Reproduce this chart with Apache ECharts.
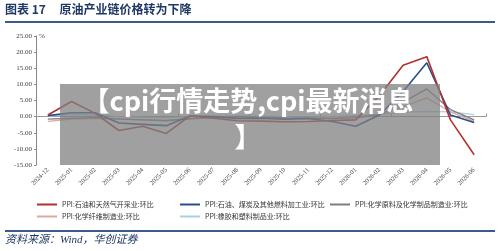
<!DOCTYPE html>
<html><head><meta charset="utf-8">
<script src="https://cdn.jsdelivr.net/npm/echarts@6/dist/echarts.min.js"></script>
<style>html,body{margin:0;padding:0;background:#fff;}#c{width:500px;height:251px;}</style>
</head><body><div id="c"></div>
<script>
const categories = ['2024-12','2025-01','2025-02','2025-03','2025-04','2025-05','2025-06','2025-07','2025-08','2025-09','2025-10','2025-11','2025-12','2026-01','2026-02','2026-03','2026-04','2026-05','2026-06'];
const oilGas   = [0.5, 4.7, 1.0, -4.3, -3.0, -5.2, 0.2, -0.5, -1.3, -1.4, -1.6, -1.5, -1.2, -1.0, 6.5, 15.9, 18.6, -1.0, -11.8];
const refining = [0.3, 1.2, 1.2, -2.0, -2.4, -2.8, 0.2, 0.0, -0.6, -0.5, -0.8, -0.6, -1.5, -3.0, 0.5, 7.8, 16.7, 0.5, -1.8];
const chemRaw  = [-0.8, -0.5, -0.3, -0.8, -1.0, -1.2, -0.6, -0.2, 0.0, -0.2, -0.4, -0.5, -0.6, -0.3, 0.5, 4.5, 8.6, 2.2, -1.0];
const fiber    = [-1.5, -0.8, -0.5, -0.6, -1.0, -1.3, -0.8, -0.3, -0.2, -0.4, -0.6, -0.5, -0.4, -0.2, 0.6, 3.0, 5.8, 1.5, -1.5];
const rubber   = [0.2, 0.6, 0.5, 0.0, -0.2, -0.3, 0.0, 0.1, 0.2, 0.1, 0.0, -0.1, 0.0, 0.3, 0.6, 1.4, 1.6, 1.5, 0.6];
const seriesNames = ['PPI:石油和天然气开采业:环比','PPI:石油、煤炭及其他燃料加工业:环比','PPI:化学原料及化学制品制造业:环比','PPI:化学纤维制造业:环比','PPI:橡胶和塑料制品业:环比'];
const colors = ['#B3302E','#234F8C','#7F7F7F','#DDA8A2','#A9D0E2'];
const widths = [1.6,1.6,1.3,1.3,1.3];
const allData = [oilGas, refining, chemRaw, fiber, rubber];
const titleText = '图表 17     原油产业链价格转为下降';
const sourceText = '资料来源：Wind，华创证券';
const overlayText = '【cpi行情走势,cpi最新消息\n】';

const chart = echarts.init(document.getElementById('c'), null, {renderer:'canvas'});
const legendText = {fontSize:7, color:'#333', fontFamily:'"Noto Sans CJK SC", sans-serif'};
function legend(names, left){
  return {data:names, orient:'vertical', left:left, top:201, itemWidth:20, itemHeight:2, itemGap:5, icon:'rect', padding:0, textStyle:legendText, selectedMode:false};
}
chart.setOption({
  animation:false,
  title:{text:titleText, left:5, top:3, padding:0, textStyle:{fontSize:12, fontWeight:'bold', color:'#1F3864', fontFamily:'"Noto Sans CJK SC", sans-serif'}},
  grid:{left:36, right:14, top:36, bottom:86},
  legend:[legend([seriesNames[0], seriesNames[3]], 37), legend([seriesNames[1], seriesNames[4]], 180), legend([seriesNames[2]], 330)],
  xAxis:[
    {type:'category', data:categories, boundaryGap:true, axisLine:{show:false, onZero:false}, axisTick:{show:false},
     axisLabel:{rotate:45, fontSize:6.5, color:'#404040', margin:4, fontFamily:'"Liberation Serif", serif', interval:0}},
    {type:'category', data:categories, position:'bottom', boundaryGap:true, axisLine:{show:true, onZero:true, lineStyle:{color:'#999', width:1}},
     axisTick:{show:true, inside:true, length:3, lineStyle:{color:'#999'}}, axisLabel:{show:false}}
  ],
  yAxis:{type:'value', min:-15, max:25, interval:5, name:'%', nameLocation:'end', nameGap:0,
    nameTextStyle:{align:'left', verticalAlign:'middle', fontSize:7, color:'#404040', padding:[0,0,0,3], fontFamily:'"Liberation Serif", serif'},
    axisLine:{show:true, lineStyle:{color:'#888', width:1}}, axisTick:{show:true, length:2, lineStyle:{color:'#888'}}, splitLine:{show:false},
    axisLabel:{fontSize:7, color:'#404040', margin:4, fontFamily:'"Liberation Serif", serif', formatter:v=>v.toFixed(2)}},
  series: allData.map((d,i)=>({name:seriesNames[i], type:'line', data:d, xAxisIndex:0, showSymbol:false, symbol:'none',
    lineStyle:{color:colors[i], width:widths[i]}, itemStyle:{color:colors[i]}, z:10-i})),
  graphic:[
    {type:'line', shape:{x1:5,y1:22,x2:495,y2:22}, style:{stroke:'#3D5A8A', lineWidth:2}},
    {type:'line', shape:{x1:5,y1:231,x2:495,y2:231}, style:{stroke:'#3D5A8A', lineWidth:2}},
    {type:'text', left:5, top:235, style:{text:sourceText, fill:'#1F3864', font:'italic 11px "Liberation Serif", "Noto Sans CJK SC", serif'}},
    {type:'rect', shape:{x:60,y:84,width:380,height:81}, style:{fill:'rgba(128,128,128,0.75)'}, z:100},
    {type:'text', x:248, y:119, z:101, style:{text:overlayText, fill:'#fff', font:'bold 27px "Noto Sans CJK SC", sans-serif', textAlign:'center', textVerticalAlign:'middle', lineHeight:36}}
  ]
});
</script></body></html>
